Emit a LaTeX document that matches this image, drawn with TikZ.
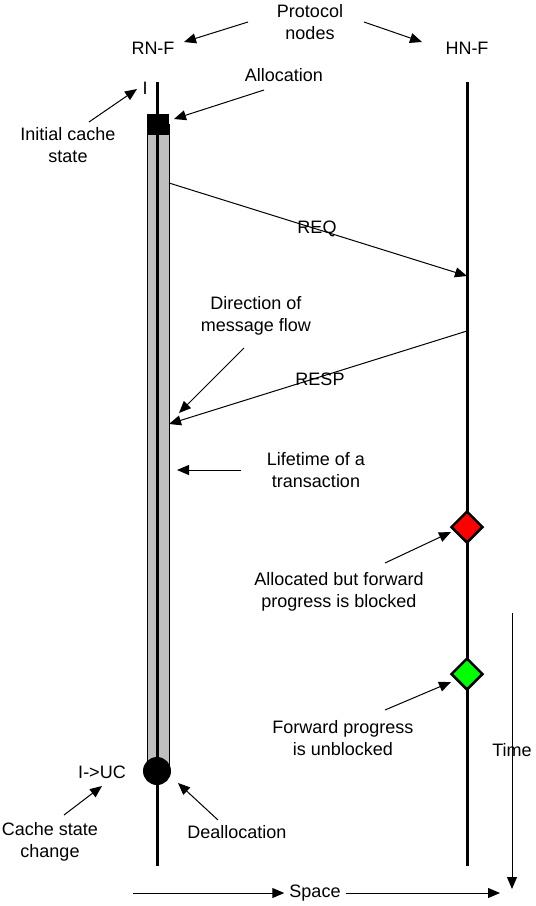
\documentclass[tikz,border=0pt]{standalone}
\usepackage{fontspec}
\setmainfont{Liberation Sans}
\usetikzlibrary{arrows.meta,shapes.geometric}
\begin{document}
\begin{tikzpicture}[x=1pt,y=-1pt,
  lbl/.style={font=\fontsize{18}{22}\selectfont,align=center,inner sep=0pt},
  ptr/.style={line width=1pt,-{Triangle[length=12pt,width=10pt]}},
  life/.style={line width=3pt},
  dia/.style={diamond,draw=black,line width=2.5pt,minimum size=32pt,inner sep=0pt}]
\useasboundingbox (0,0) rectangle (536,906);
% lifelines
\coordinate (rtop) at (157,82); \coordinate (rbot) at (157,866);
\coordinate (htop) at (467,82); \coordinate (hbot) at (467,866);
\fill[fill=black!25,draw=black,line width=1pt] (147,124) rectangle (169,765);
\draw[life] (rtop) -- (rbot);
\draw[life] (htop) -- (hbot);
\fill[black] (147,114) rectangle (169,135);
\node[circle,fill=black,minimum size=28pt,inner sep=0pt] (circ) at (157,771) {};
\node[dia,fill=red] (red) at (467,527) {};
\node[dia,fill=green] (grn) at (467,674) {};
% texts
\node[lbl] (proto) at (310,22) {Protocol\\nodes};
\node[lbl] (rnf) at (153,48) {RN-F};
\node[lbl] (hnf) at (467,48) {HN-F};
\node[lbl] (alloc) at (284,75) {Allocation};
\node[lbl] (istate) at (145,88) {I};
\node[lbl] (init) at (68,145) {Initial cache\\state};
\node[lbl] (req) at (317,229) {REQ};
\node[lbl] (resp) at (320,379) {RESP};
\node[lbl] (dir) at (256,316) {Direction of\\message flow};
\node[lbl] (lifet) at (316,470) {Lifetime of a\\transaction};
\node[lbl] (blk) at (339,592) {Allocated but forward\\progress is blocked};
\node[lbl] (unblk) at (343,738) {Forward progress\\is unblocked};
\node[lbl] (iuc) at (102,772) {I->UC};
\node[lbl] (csc) at (50,842) {Cache state\\change};
\node[lbl] (dealloc) at (237,832) {Deallocation};
\node[lbl] (time) at (512,750) {Time};
\node[lbl,fill=white,inner xsep=5pt] (space) at (315,893) {Space};
% messages
\coordinate (reqs) at (169,183); \coordinate (reqe) at (467,276);
\coordinate (resps) at (467,331); \coordinate (respe) at (169,424);
\draw[ptr] (reqs) -- (reqe);
\draw[ptr] (resps) -- (respe);
% pointers
\coordinate (p1a) at (248,22); \coordinate (p1b) at (184,42);
\coordinate (p2a) at (364,22); \coordinate (p2b) at (422,42);
\draw[ptr] (p1a) -- (p1b);
\draw[ptr] (p2a) -- (p2b);
\coordinate (a1) at (264,90); \coordinate (a2) at (174,119);
\draw[ptr] (a1) -- (a2);
\coordinate (i1) at (89,122); \coordinate (i2) at (137,89);
\draw[ptr] (i1) -- (i2);
\coordinate (d1) at (244,348); \coordinate (d2) at (179,413);
\draw[ptr] (d1) -- (d2);
\coordinate (l1) at (241,470); \coordinate (l2) at (177,470);
\draw[ptr] (l1) -- (l2);
\coordinate (b1) at (385,563); \coordinate (b2) at (451,532);
\draw[ptr] (b1) -- (b2);
\coordinate (u1) at (385,710); \coordinate (u2) at (451,682);
\draw[ptr] (u1) -- (u2);
\coordinate (c1) at (64,815); \coordinate (c2) at (102,786);
\draw[ptr] (c1) -- (c2);
\coordinate (e1) at (218,820); \coordinate (e2) at (178,783);
\draw[ptr] (e1) -- (e2);
\coordinate (t1) at (512,613); \coordinate (t2) at (512,889);
\draw[ptr] (t1) -- (t2);
\coordinate (s1) at (133,893); \coordinate (s2) at (500,893);
\draw[ptr] (s1) -- (space.west);
\draw[ptr] (space.east) -- (s2);
\end{tikzpicture}
\end{document}
